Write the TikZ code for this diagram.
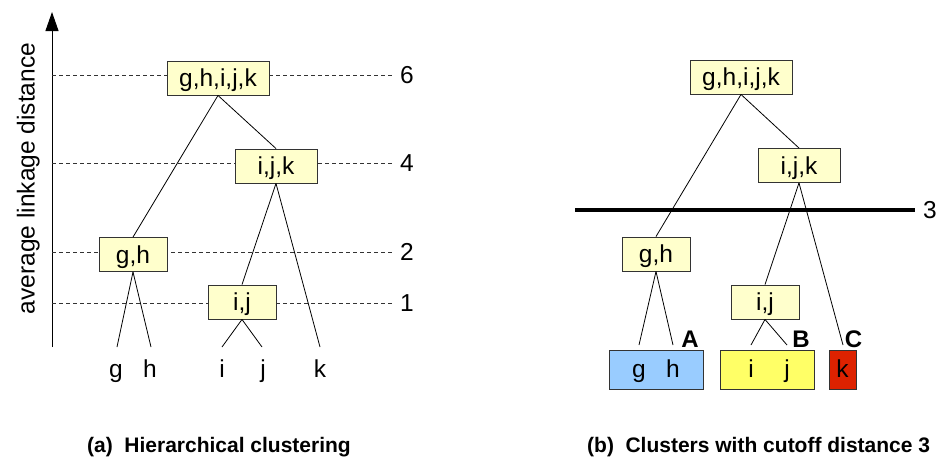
\documentclass[tikz,border=0pt]{standalone}
\usepackage{fontspec}
\setmainfont{Liberation Sans}
\usetikzlibrary{arrows.meta}
\definecolor{boxyel}{HTML}{FFFFCC}
\definecolor{boxline}{HTML}{333333}
\definecolor{cblue}{HTML}{99CCFF}
\definecolor{cyel}{HTML}{FFFF66}
\definecolor{cred}{HTML}{DD2200}
\begin{document}
\begin{tikzpicture}[x=1pt,y=-1pt,
  lbl/.style={font=\fontsize{24.5}{29}\selectfont, inner sep=0pt, text height=17.5pt, text depth=0pt},
  blbl/.style={font=\bfseries\fontsize{24}{29}\selectfont, inner sep=0pt, text height=17.2pt, text depth=0pt},
  cbox/.style={draw=boxline, fill=boxyel, line width=0.9pt, minimum height=34pt, inner sep=0pt, lbl},
  clbox/.style={draw=boxline, line width=0.9pt, minimum height=39pt, inner sep=0pt},
  leaf/.style={lbl, anchor=base},
  tline/.style={line width=0.8pt, black},
  dline/.style={dashed, dash pattern=on 4pt off 3pt, line width=0.8pt, boxline},
  capt/.style={font=\bfseries\fontsize{21}{25}\selectfont, inner sep=0pt, anchor=base west}
]
\useasboundingbox (0,0) rectangle (938,459);

% ---------- (a) ----------
\coordinate (axb) at (52,347);
\coordinate (axt) at (52,12);
\draw[line width=1pt, -{Triangle[length=19pt,width=13pt]}] (axb) -- (axt);
\node[lbl, rotate=90] (ylab) at (25.75,178.5) {average linkage distance};

\draw[dline] (52,75) -- (393,75);
\draw[dline] (52,163) -- (393,163);
\draw[dline] (52,252) -- (393,252);
\draw[dline] (52,303) -- (393,303);
\node[lbl] (d6) at (407,75) {6};
\node[lbl] (d4) at (407,163) {4};
\node[lbl] (d2) at (407,252) {2};
\node[lbl] (d1) at (407,303) {1};

\node[cbox, minimum width=102pt] (a1) at (218,78) {g,h,i,j,k};
\node[cbox, minimum width=82pt] (a2) at (276,166) {i,j,k};
\node[cbox, minimum width=68pt] (a3) at (133,254.5) {g,h};
\node[cbox, minimum width=68pt] (a4) at (242,302) {i,j};

\coordinate (ag) at (117,347);
\coordinate (ah) at (151,347);
\coordinate (ai) at (222,347);
\coordinate (aj) at (262,347);
\coordinate (ak) at (320,347);

\draw[tline] (a1.south) -- (a3.north);
\draw[tline] (a1.south) -- (a2.north);
\draw[tline] (a2.south) -- (a4.north);
\draw[tline] (a2.south) -- (ak);
\draw[tline] (a3.south) -- (ag);
\draw[tline] (a3.south) -- (ah);
\draw[tline] (a4.south) -- (ai);
\draw[tline] (a4.south) -- (aj);

\node[leaf] (lg) at (116,377) {g};
\node[leaf] (lh) at (150,377) {h};
\node[leaf] (li) at (222,377) {i};
\node[leaf] (lj) at (263,377) {j};
\node[leaf] (lk) at (320,377) {k};

\node[capt] (capa) at (87,452) {(a)\hspace{0.55em}Hierarchical clustering};

% ---------- (b) ----------
\node[cbox, minimum width=102pt] (b1) at (741,77) {g,h,i,j,k};
\node[cbox, minimum width=82pt] (b2) at (799,165.5) {i,j,k};
\node[cbox, minimum width=68pt] (b3) at (656,254) {g,h};
\node[cbox, minimum width=68pt] (b4) at (765,302) {i,j};

\coordinate (cutl) at (575,210);
\coordinate (cutr) at (915,210);
\draw[line width=3.7pt] (cutl) -- (cutr);
\node[lbl] (d3) at (930,210) {3};

\coordinate (bg) at (639,345);
\coordinate (bh) at (673,345);
\coordinate (bi) at (751,345);
\coordinate (bj) at (787,345);
\coordinate (bk) at (843,345);

\draw[tline] (b1.south) -- (b3.north);
\draw[tline] (b1.south) -- (b2.north);
\draw[tline] (b2.south) -- (b4.north);
\draw[tline] (b2.south) -- (bk);
\draw[tline] (b3.south) -- (bg);
\draw[tline] (b3.south) -- (bh);
\draw[tline] (b4.south) -- (bi);
\draw[tline] (b4.south) -- (bj);

\node[clbox, fill=cblue, minimum width=94pt] (cA) at (656,369.5) {};
\node[clbox, fill=cyel, minimum width=94pt] (cB) at (767,369.5) {};
\node[clbox, fill=cred, minimum width=27pt] (cC) at (842.5,369.5) {};

\node[leaf] (rg) at (639,377) {g};
\node[leaf] (rh) at (673,377) {h};
\node[leaf] (ri) at (751,377) {i};
\node[leaf] (rj) at (787,377) {j};
\node[leaf] (rk) at (842.5,377) {k};

\node[blbl] (lA) at (690,338.5) {A};
\node[blbl] (lB) at (801,338.5) {B};
\node[blbl] (lC) at (853.5,338.5) {C};

\node[capt] (capb) at (587,452) {(b)\hspace{0.55em}Clusters with cutoff distance 3};
\end{tikzpicture}
\end{document}
